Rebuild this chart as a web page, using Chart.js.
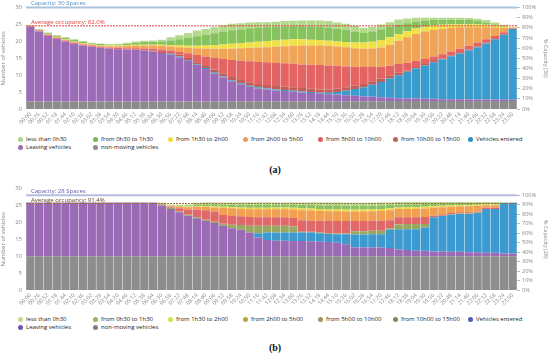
<!DOCTYPE html>
<html lang="en">
<head>
<meta charset="UTF-8" />
<title>Parking occupancy</title>
<script src="https://cdn.jsdelivr.net/npm/chart.js"></script>
<style>
  body { margin: 0; background: #fff; width: 550px; height: 356px; position: relative; overflow: hidden; font-family: 'Open Sans', sans-serif; }
  .box { position: absolute; left: 0; width: 550px; height: 131px; }
  .legend { position: absolute; left: 18px; width: 530px; height: 16px; font-size: 6px; color: #222; }
  .legend span { position: absolute; white-space: nowrap; line-height: 7px; }
  .legend i { display: inline-block; width: 5px; height: 5px; border-radius: 50%; margin-right: 3px; vertical-align: -1px; }
  .caption { position: absolute; left: 0; width: 550px; text-align: center; font: bold 10px 'Liberation Serif', serif; color: #111; }
</style>
</head>
<body>
  <div class="box" style="top:0"><canvas id="chartA"></canvas></div>
  <div class="legend" id="legendA" style="top:136px"></div>
  <div class="caption" style="top:164px">(a)</div>

  <div class="box" style="top:181px"><canvas id="chartB"></canvas></div>
  <div class="legend" id="legendB" style="top:316px"></div>
  <div class="caption" style="top:342px">(b)</div>

<script>
const labels = ['00:00','00:26','00:52','01:18','01:44','02:10','02:36','03:02','03:28','03:54','04:20','04:46','05:12','05:38',
  '06:04','06:30','06:56','07:22','07:48','08:14','08:40','09:06','09:32','09:58','10:24','10:50','11:16','11:42',
  '12:08','12:34','13:00','13:26','13:52','14:18','14:44','15:10','15:36','16:02','16:28','16:54','17:20','17:46',
  '18:12','18:38','19:04','19:30','19:56','20:22','20:48','21:14','21:40','22:06','22:32','22:58','23:24','23:50'];

const yTicks = [0, 5, 10, 15, 20, 25, 30];
const pctTicks = [0, 10, 20, 30, 40, 50, 60, 70, 80, 90, 100];

// series names, bottom of the stack first
const seriesNames = ['non-moving vehicles','Leaving vehicles','Vehicles entered','from 10h00 to 15h00','from 5h00 to 10h00',
  'from 2h00 to 5h00','from 1h30 to 2h00','from 0h30 to 1h30','less than 0h30'];
// legend order as in the picture
const legendOrder = [8, 7, 6, 5, 4, 3, 2, 1, 0];

// ---- (a) capacity 30
const a_nm = [2.2,2.2,2.2,2.2,2.2,2.2,2.2,2.2,2.2,2.2,2.2,2.2,2.2,2.2,2.2,2.2,2.2,2.2,2.2,2.2,2.2,
  2.3,2.3,2.3,2.3,2.3,2.3,2.3,2.3,2.3,2.3,2.3,2.3,2.3,2.3,2.3,2.3,2.3,2.3,2.3,2.3,
  2.4,2.4,2.4,2.4,2.4,2.4,2.4,2.4,2.4,2.4,2.4,2.4,2.4,2.4,2.4];
const a_lv = [22.1,20.7,19.5,18.6,17.8,17.1,16.6,16.2,15.9,15.7,15.5,15.4,15.3,15.1,14.8,14.4,13.8,13.1,12.1,10.8,
  9.6,8.1,7.0,5.9,5.0,4.3,3.8,3.5,3.2,3.0,2.8,2.6,2.4,2.2,2.1,2.0,1.8,1.6,1.4,1.3,
  1.2,0.9,0.8,0.7,0.7,0.6,0.6,0.5,0.5,0.5,0.4,0.4,0.4,0.4,0.3,0.3];
const a_ve = [0,0,0,0,0,0,0,0,0,0,0,0,0,0,0,0,0.2,0.2,0.2,0.2,
  0.3,0.3,0.3,0.3,0.3,0.3,0.3,0.3,0.3,0.3,0.3,0.3,0.3,0.3,0.4,0.7,1.3,2.0,2.7,3.6,
  4.5,5.7,6.8,7.9,8.9,9.9,10.8,11.8,12.7,13.5,14.6,15.5,16.6,17.8,19.3,21.0];
const a_b10 = [0,0,0,0,0,0,0,0,0,0,0,0,0,0,0.3,0.3,0.3,0.6,0.6,0.6,
  0.6,1.0,1.0,1.0,1.0,1.0,1.0,1.0,1.0,1.0,1.0,1.0,1.0,1.0,1.0,1.0,1.0,1.0,1.0,1.0,
  1.0,1.0,0.7,0.4,0.4,0.4,0.4,0.2,0.2,0.2,0.2,0.2,0.2,0,0,0];
const a_r5 = [0.2,0.3,0.3,0.3,0.3,0.3,0.3,0.3,0.3,0.3,0.4,0.4,0.5,0.6,0.5,0.7,0.8,0.8,1.4,2.2,
  2.8,3.4,4.2,5.0,5.7,6.2,6.5,6.7,6.8,6.9,7.0,7.0,7.1,7.2,7.1,6.8,6.2,5.6,5.0,4.2,
  3.5,2.8,2.6,2.3,1.8,1.5,1.3,1.3,1.2,1.2,1.1,1.2,1.0,1.0,0.7,0.2];
const a_o2 = [0.1,0.1,0.1,0.2,0.2,0.3,0.3,0.3,0.4,0.4,0.5,0.7,0.8,0.9,1.0,1.1,1.2,1.4,1.6,2.0,
  2.4,2.7,3.0,3.4,3.7,4.0,4.3,4.5,4.8,5.1,5.3,5.6,5.7,5.8,5.8,5.7,5.7,5.5,5.4,5.5,
  5.7,6.2,6.9,7.5,8.0,8.1,7.9,7.5,7.0,6.4,5.5,4.5,3.6,2.5,1.3,0.1];
const a_y1 = [0,0,0.1,0.1,0.1,0.1,0.1,0.1,0.1,0.2,0.2,0.2,0.2,0.2,0.2,0.3,0.4,0.5,0.6,0.7,
  0.9,1.1,1.3,1.4,1.5,1.6,1.7,1.8,1.9,1.9,1.9,1.8,1.7,1.6,1.5,1.5,1.5,1.7,1.9,2.0,
  2.2,2.2,2.0,1.8,1.6,1.4,1.3,1.2,1.0,0.8,0.8,0.8,0.7,0.5,0.3,0.1];
const a_g0 = [0.1,0.2,0.2,0.3,0.4,0.4,0.4,0.3,0.3,0.2,0.3,0.4,0.6,0.8,0.9,1.0,1.4,1.8,2.3,2.8,
  3.2,3.5,3.8,4.0,4.1,4.2,4.2,4.1,4.0,3.9,3.9,3.9,3.9,3.9,3.9,3.8,3.6,3.2,2.8,3.0,
  3.2,3.1,2.8,2.4,2.1,1.9,1.7,1.5,1.4,1.4,1.3,1.0,0.7,0.4,0.2,0.1];
const a_lg = [0.1,0.1,0.2,0.2,0.2,0.2,0.2,0.2,0.2,0.2,0.2,0.3,0.4,0.4,0.4,0.5,0.9,1.2,1.5,1.7,
  1.7,1.8,1.9,1.9,1.8,1.7,1.6,1.5,1.5,1.6,1.6,1.7,1.8,1.9,1.9,1.8,1.8,1.7,1.5,1.4,
  1.4,1.4,1.5,1.4,1.1,0.8,0.6,0.6,0.6,0.6,0.6,0.7,0.7,0.6,0.4,0.1];

// ---- (b) capacity 28
const b_nm = [10,10,10,10,10,10,10,10,10,10,10,10,10,10,10,10,10,10,10,10,10,10,10,10,10,10,10,10,
  10,10,10,10,10,10,10,10,10,10,10,10,10,10,10,10,10,10,10,10,10,10,10,10,10,10,10,10];
const b_lv = [15.9,15.9,15.9,15.9,15.9,15.9,15.9,15.9,15.9,15.9,15.9,15.9,15.9,15.9,15.9,
  15.0,14.0,13.0,12.0,11.2,10.5,9.8,9.0,8.3,7.8,7.0,5.5,4.8,4.6,4.6,4.5,4.5,4.4,4.3,4.2,4.0,3.5,
  2.6,2.6,2.6,2.6,2.4,2.0,1.8,1.6,1.6,1.4,1.4,1.3,1.3,1.2,1.2,1.0,1.0,0.8,0.8];
const b_ve = [0,0,0,0,0,0,0,0,0,0,0,0,0,0,0,0,0,0,0,0,0,0,0,0,0,0,
  1.3,2.2,2.4,2.4,2.5,2.5,2.6,2.5,2.4,2.5,3.0,3.8,3.8,3.9,3.9,5.4,6.0,6.2,6.4,6.9,
  10.1,10.5,11.0,11.2,11.3,11.6,13.0,13.0,15.0,15.0];
const b_b10 = [0,0,0,0,0,0,0,0,0,0,0,0,0,0,0,
  0.3,0.3,0.3,0.3,0.3,0.3,0.4,0.6,1.0,1.4,2.0,2.2,2.0,2.0,2.0,1.8,0.2,0.2,0.2,0.2,0.2,0.2,
  1.0,1.0,1.0,1.0,0.5,1.4,1.5,1.5,1.0,0.1,0.1,0.1,0.1,0.1,0.1,0,0,0,0];
const b_r5 = [0,0,0,0,0,0,0,0,0,0,0,0,0,0,0,
  0.2,0.4,0.9,1.5,2.3,2.8,3.0,2.6,2.6,2.6,2.6,2.5,2.5,2.5,2.5,2.5,3.4,3.3,3.5,3.6,3.7,3.7,
  3.0,3.0,3.0,3.0,2.3,2.1,2.0,2.0,2.1,0.4,0.4,0.4,0.4,0.4,0.3,0.3,0.3,0,0];
const b_o2 = [0,0,0,0,0,0,0,0,0,0,0,0,0,0,0,
  0.1,0.2,0.5,0.7,0.8,1.0,1.2,2.1,2.3,2.2,2.3,2.4,2.4,2.4,2.4,2.5,3.0,3.0,2.9,2.9,2.9,2.8,
  2.8,2.8,2.8,2.9,3.0,2.5,2.5,2.5,2.5,2.4,2.1,1.8,1.8,1.8,1.7,0.8,0.8,0,0];
const b_y1 = [0,0,0,0,0,0,0,0,0,0,0,0,0,0,0,
  0,0.1,0.1,0.2,0.2,0.2,0.3,0.3,0.3,0.4,0.4,0.4,0.4,0.5,0.5,0.5,
  0.6,0.6,0.6,0.6,0.6,0.6,0.6,0.6,0.6,0.6,0.6,
  0.4,0.5,0.5,0.5,0.4,0.4,0.4,0.3,0.3,0.3,0.2,0.2,0,0];
const b_g0 = [0,0,0,0,0,0,0,0,0,0,0,0,0,0,0,
  0.1,0.1,0.2,0.3,0.5,0.6,0.7,0.7,0.8,0.8,0.9,0.9,0.9,0.9,0.9,1.0,1.0,1.1,1.1,1.2,
  1.2,1.2,1.2,1.2,1.1,1.1,1.0,0.9,0.9,0.9,0.9,0.7,0.7,0.7,0.6,0.6,0.6,0.5,0.5,0.1,0.1];
const b_lg = [0,0,0,0,0,0,0,0,0,0,0,0,0,0,0,
  0.1,0.2,0.2,0.3,0.5,0.5,0.5,0.6,0.6,0.7,0.7,0.7,0.7,0.6,0.6,0.6,0.7,0.7,0.8,0.8,
  0.8,0.8,0.8,0.8,0.8,0.8,0.7,0.7,0.6,0.6,0.5,0.5,0.4,0.3,0.3,0.3,0.2,0.2,0.2,0,0];

const colorsA = ['#8c8c8c','#9b6bb8','#3a9ccc','#c0605a','#e46464','#f0a458','#f0e04a','#86c25e','#b3d98c'];
const legendColorsA = ['#8c8c8c','#9b6bb8','#2f8fc4','#b56a58','#e06060','#ef9a55','#f0dc48','#74b85a','#acd48a'];
const colorsB = ['#8d8d8d','#9a6ab5','#3c9ad0','#98a860','#e06868','#f0a050','#e8d84a','#8cc060','#b8d890'];
const legendColorsB = ['#808080','#6a58aa','#5858c0','#8c8060','#a89060','#b0a840','#d8e048','#a0b060','#c8d890'];

Chart.defaults.font.family = '"Open Sans", sans-serif';
Chart.defaults.color = '#777';

const refLines = {
  id: 'refLines',
  afterDatasetsDraw(chart, args, o) {
    const { ctx, chartArea: a, scales: { y } } = chart;
    const yc = y.getPixelForValue(o.capacity);
    const ya = y.getPixelForValue(o.average);
    ctx.save();
    ctx.strokeStyle = o.capColor;
    ctx.lineWidth = 2;
    ctx.beginPath(); ctx.moveTo(a.left, yc); ctx.lineTo(a.right, yc); ctx.stroke();
    ctx.strokeStyle = o.avgColor;
    ctx.lineWidth = 1;
    ctx.setLineDash([2, 1]);
    ctx.beginPath(); ctx.moveTo(a.left, ya); ctx.lineTo(a.right, ya); ctx.stroke();
    ctx.setLineDash([]);
    ctx.font = '6px "Open Sans"';
    ctx.textBaseline = 'bottom';
    ctx.fillStyle = o.capText;
    ctx.fillText(o.capLabel, a.left + 5, yc - 1.5);
    ctx.fillStyle = o.avgText;
    ctx.fillText(o.avgLabel, a.left + 5, ya - 0.5);
    ctx.restore();
  }
};

function makeChart(id, series, colors, cap, avgPct, lines) {
  return new Chart(document.getElementById(id), {
    type: 'bar',
    data: {
      labels: labels,
      datasets: series.map((d, k) => ({
        label: seriesNames[k],
        data: d,
        backgroundColor: colors[k],
        borderWidth: 0,
        barPercentage: 0.95,
        categoryPercentage: 1
      }))
    },
    options: {
      responsive: false,
      animation: false,
      layout: { padding: { top: 7, left: 0, right: 0, bottom: 0 } },
      plugins: {
        legend: { display: false },
        tooltip: { enabled: false },
        refLines: Object.assign({ capacity: cap, average: cap * avgPct / 100 }, lines)
      },
      scales: {
        x: {
          stacked: true,
          grid: { display: false, drawTicks: false },
          border: { display: false },
          ticks: { autoSkip: false, minRotation: 45, maxRotation: 45, padding: 2, font: { size: 5.5 }, color: '#888' },
          afterFit: s => { s.height = 22; }
        },
        y: {
          stacked: true,
          min: 0, max: 30,
          grid: { display: false, drawTicks: false },
          border: { display: false },
          afterBuildTicks: s => { s.ticks = yTicks.map(v => ({ value: v })); },
          ticks: { padding: 4, font: { size: 6 }, color: '#888' },
          title: { display: true, text: 'Number of vehicles', font: { size: 6 }, color: '#888', padding: 0 },
          afterFit: s => { s.width = 26; }
        },
        y1: {
          position: 'right',
          min: 0, max: 30 / cap * 100,
          grid: { display: true, drawOnChartArea: false, drawTicks: true, tickLength: 3, color: '#bbb' },
          border: { display: false },
          afterBuildTicks: s => { s.ticks = pctTicks.map(v => ({ value: v })); },
          ticks: { padding: 2, font: { size: 5.5 }, color: '#888', callback: v => v + '%' },
          title: { display: true, text: '% Capacity (' + cap + ')', font: { size: 5.5 }, color: '#888', padding: 1 },
          afterFit: s => { s.width = 33; }
        }
      }
    },
    plugins: [refLines]
  });
}

function makeLegend(id, colors) {
  const el = document.getElementById(id);
  legendOrder.forEach((k, n) => {
    const row = n < 7 ? 0 : 1;
    const col = n < 7 ? n : n - 7;
    const s = document.createElement('span');
    s.style.left = (col * 75) + 'px';
    s.style.top = (row * 7.5) + 'px';
    s.innerHTML = '<i style="background:' + colors[k] + '"></i>' + seriesNames[k];
    el.appendChild(s);
  });
}

['chartA', 'chartB'].forEach(id => {
  const c = document.getElementById(id);
  c.width = 550; c.height = 131;
});

makeChart('chartA', [a_nm, a_lv, a_ve, a_b10, a_r5, a_o2, a_y1, a_g0, a_lg], colorsA, 30, 82.0, {
  capColor: '#a9c4dc', capText: '#4a8ec4', capLabel: 'Capacity: 30 Spaces',
  avgColor: '#e04040', avgText: '#e03a3a', avgLabel: 'Average occupancy: 82.0%'
});
makeChart('chartB', [b_nm, b_lv, b_ve, b_b10, b_r5, b_o2, b_y1, b_g0, b_lg], colorsB, 28, 91.4, {
  capColor: '#b8bce0', capText: '#5a58a8', capLabel: 'Capacity: 28 Spaces',
  avgColor: '#9a7030', avgText: '#5a4a20', avgLabel: 'Average occupancy: 91.4%'
});

makeLegend('legendA', legendColorsA);
makeLegend('legendB', legendColorsB);
</script>
</body>
</html>
